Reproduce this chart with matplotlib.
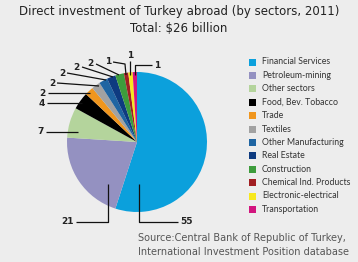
import matplotlib
matplotlib.use('Agg')
import matplotlib.pyplot as plt

# data (percent shares, 2011)
sectors = ['Financial Services', 'Petroleum-mining', 'Other sectors',
           'Food, Bev. Tobacco', 'Trade', 'Textiles', 'Other Manufacturing',
           'Real Estate', 'Construction', 'Chemical Ind. Products',
           'Electronic-electrical', 'Transportation']
shares = [55, 21, 7, 4, 2, 2, 2, 2, 2, 1, 1, 1]
colors = ['#0ba0dc', '#9491c1', '#b4d49c', '#000000', '#f0961e', '#a2a2a2',
          '#1f65a2', '#0e3b80', '#3d9c3c', '#a11e22', '#f7e81e', '#d2157e']

# leader lines (pixel coords, y from top) and label positions
leaders = [
    ([(139, 184), (139, 222), (178, 222)], (180, 222), 'left'),
    ([(108, 184), (108, 222), (76, 222)], (74, 222), 'right'),
    ([(78, 132), (46, 132)], (44, 132), 'right'),
    ([(82, 103), (47, 103)], (45, 103), 'right'),
    ([(90, 93), (48, 93)], (46, 93), 'right'),
    ([(99, 86), (57, 83)], (55, 83), 'right'),
    ([(106, 80), (67, 73)], (65, 73), 'right'),
    ([(113, 77), (82, 67)], (80, 67), 'right'),
    ([(119, 75), (96, 64)], (94, 64), 'right'),
    ([(126, 75), (125, 64), (113, 62)], (111, 62), 'right'),
    ([(130, 75), (130, 61)], (130, 56), 'center'),
    ([(135, 75), (135, 65), (152, 65)], (154, 65), 'left'),
]

W, H = 358, 262
fig = plt.figure(figsize=(W / 100, H / 100), dpi=100, facecolor='#ededed')
ax = fig.add_axes([0, 0, 1, 1])

ax.pie(shares, colors=colors, startangle=90, counterclock=False,
       center=(137, H - 142), radius=70, frame=True,
       wedgeprops=dict(linewidth=0))
ax.set_xlim(0, W)
ax.set_ylim(0, H)
ax.set_aspect('equal')
ax.axis('off')

for (pts, tpos, ha), val in zip(leaders, shares):
    xs = [p[0] for p in pts]
    ys = [H - p[1] for p in pts]
    ax.plot(xs, ys, color='#111111', lw=0.9, solid_capstyle='butt')
    ax.text(tpos[0], H - tpos[1], str(val), ha=ha, va='center',
            fontsize=6.5, fontweight='bold', color='#222222')

# legend
for i, (name, c) in enumerate(zip(sectors, colors)):
    y = H - (62 + i * 13.4)
    ax.add_patch(plt.Rectangle((248.5, y - 3.5), 7, 7, color=c, lw=0))
    ax.text(262, y, name, ha='left', va='center', fontsize=6.3,
            family='Lato', color='#333333')

ax.text(179, H - 12, 'Direct investment of Turkey abroad (by sectors, 2011)',
        ha='center', va='center', fontsize=8.5, color='#222222')
ax.text(179, H - 28, 'Total: $26 billion', ha='center', va='center',
        fontsize=8.5, color='#222222')

ax.text(138, H - 238, 'Source:Central Bank of Republic of Turkey,',
        ha='left', va='center', fontsize=7, color='#555555')
ax.text(138, H - 252, 'International Investment Position database',
        ha='left', va='center', fontsize=7, color='#555555')

fig.savefig('out.png', dpi=100, facecolor=fig.get_facecolor())
